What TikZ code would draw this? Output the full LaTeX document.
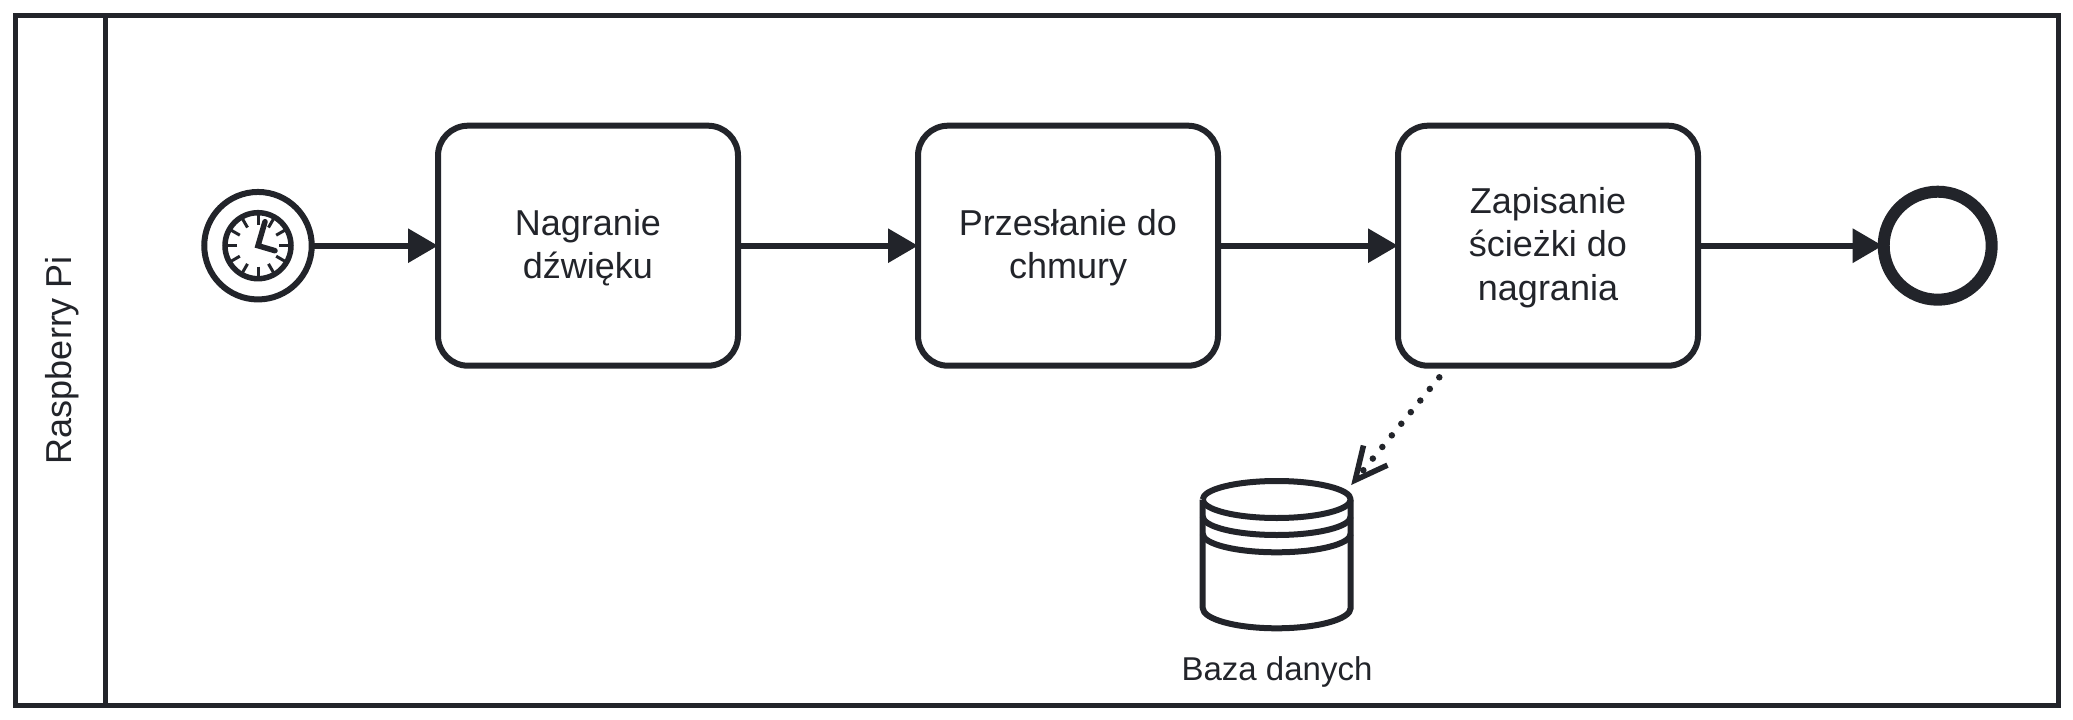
\documentclass[tikz,border=0pt]{standalone}
\usepackage{fontspec}
\setmainfont{Liberation Sans}
\usetikzlibrary{arrows.meta,calc}
\definecolor{ink}{HTML}{22242A}
\newcommand\tasktext[1]{\begin{tabular}{@{}c@{}}\noalign{\kern5.2pt}#1\end{tabular}}
\tikzset{
  x=1pt,y=-1pt,
  taskbox/.style={draw=ink,line width=6pt,rounded corners=30pt,minimum width=300pt,minimum height=240pt,inner sep=0pt,outer sep=0pt,text=ink,font=\fontsize{36}{43.2}\selectfont},
  flow/.style={draw=ink,line width=6pt,-{Triangle[length=30pt,width=33pt]}},
  assoc/.style={draw=ink,line width=6.5pt,line cap=round,dash pattern=on 0pt off 15pt,-{Straight Barb[length=32pt,width=31pt,line width=5.5pt]}},
  dbline/.style={draw=ink,line width=6pt,line join=round},
  tick/.style={draw=ink,line width=3pt},
  hand/.style={draw=ink,line width=5.5pt,line cap=round},
}
\begin{document}
\begin{tikzpicture}
\useasboundingbox (0,0) rectangle (2073,720);
\fill[white] (0,0) rectangle (2073,720);
% pool
\node[draw=ink,line width=5pt,minimum width=2043pt,minimum height=690pt,inner sep=0pt,outer sep=0pt] (pool) at (1036.5,360) {};
\coordinate (laneT) at (105,15);
\coordinate (laneB) at (105,705);
\draw[draw=ink,line width=5pt] (laneT) -- (laneB);
\node[rotate=90,text=ink,font=\fontsize{36}{43.2}\selectfont,inner sep=0pt] (lane) at (62.5,360) {Raspberry Pi};
% start event
\node[circle,draw=ink,line width=6pt,minimum size=107.5pt,inner sep=0pt,outer sep=0pt] (start) at (258,245.7) {};
\node[circle,draw=ink,line width=5.5pt,minimum size=66pt,inner sep=0pt,outer sep=0pt] (clock) at (258,245.7) {};
\foreach \a in {0,30,...,330}{
  \draw[tick] ($(clock.center)+(\a:21)$) -- ($(clock.center)+(\a:32)$);
}
\draw[hand] ($(clock.center)+(7,-24)$) -- (clock.center) -- ($(clock.center)+(17,5)$);
% tasks
\node[taskbox] (t1) at (588,245.7) {\tasktext{Nagranie\\dźwięku}};
\node[taskbox] (t2) at (1068,245.7) {\tasktext{Przesłanie do\\chmury}};
\node[taskbox] (t3) at (1548,245.7) {\tasktext{Zapisanie\\ścieżki do\\nagrania}};
% end event
\node[circle,draw=ink,line width=12pt,minimum size=108pt,inner sep=0pt,outer sep=1pt] (end) at (1937.7,245.7) {};
% flows
\draw[flow] (start) -- (t1);
\draw[flow] (t1) -- (t2);
\draw[flow] (t2) -- (t3);
\draw[flow] (t3) -- (end);
% database
\coordinate (db) at (1276.7,499.5);
\draw[dbline] (1202.7,499.5) -- (1202.7,608) arc[start angle=180,end angle=0,x radius=74,y radius=20.3] -- (1350.7,499.5);
\draw[dbline] (db) ++(-74,0) arc[start angle=180,delta angle=360,x radius=74,y radius=18.5];
\draw[dbline] (1202.7,516.5) arc[start angle=180,end angle=0,x radius=74,y radius=18.5];
\draw[dbline] (1202.7,533.8) arc[start angle=180,end angle=0,x radius=74,y radius=18.5];
\node[text=ink,font=\fontsize{33}{39}\selectfont,inner sep=0pt,anchor=base] (dblabel) at (1277,680) {Baza danych};
% association
\coordinate (assocA) at (1439.3,377.3);
\coordinate (assocB) at (1351.2,485);
\draw[assoc] (assocA) -- (assocB);
\end{tikzpicture}
\end{document}
